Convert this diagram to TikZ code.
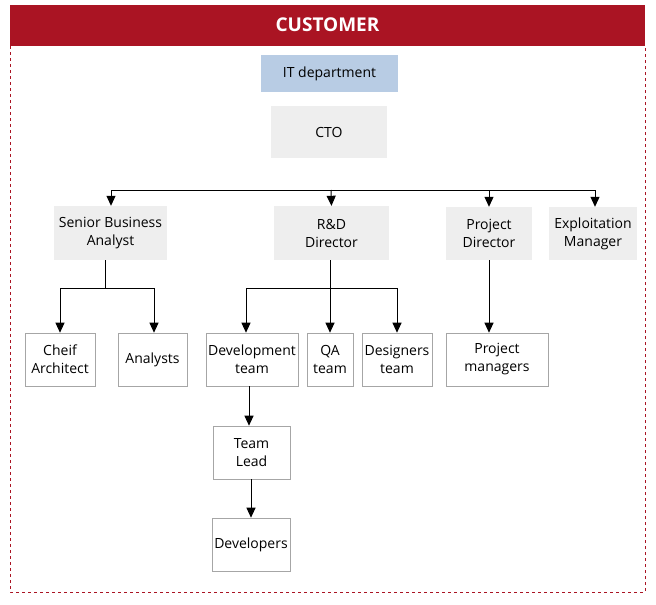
\documentclass[tikz,border=0pt]{standalone}
\usepackage{fontspec}
\setmainfont{Open Sans}
\usetikzlibrary{arrows.meta}
\begin{document}
\begin{tikzpicture}[x=1pt,y=-1pt,
 gb/.style={fill=gray!13,draw=none,align=center,font=\fontsize{14}{18}\selectfont,inner sep=0},
 wb/.style={fill=white,draw=gray!70,line width=0.6pt,align=center,font=\fontsize{14}{18}\selectfont,inner sep=0},
 ar/.style={-{Triangle[length=10pt,width=9pt]},line width=1pt},
 ln/.style={line width=1pt}]
\useasboundingbox (0,0) rectangle (656,605);
\fill[fill={rgb,255:red,170;green,20;blue,35}] (10,5) rectangle (645,46);
\node[text=white,font=\fontsize{19}{22}\selectfont\bfseries] (hdr) at (327.5,25) {CUSTOMER};
\draw[dashed,draw={rgb,255:red,170;green,20;blue,35},line width=0.7pt] (10,46) -- (10,592) -- (645,592) -- (645,46);
\node[gb,fill={rgb,255:red,184;green,204;blue,228},minimum width=137pt,minimum height=37pt] (it) at (329.5,73.5) {IT department};
\node[gb,minimum width=116pt,minimum height=52pt] (cto) at (329,132) {CTO};
\node[gb,minimum width=113pt,minimum height=54pt] (sba) at (110.5,233) {Senior Business\\Analyst};
\node[gb,minimum width=115pt,minimum height=54pt] (rd) at (331.5,233) {R\&D\\Director};
\node[gb,minimum width=86pt,minimum height=53pt] (pd) at (489,233.5) {Project\\Director};
\node[gb,minimum width=88pt,minimum height=53pt] (em) at (593,233.5) {Exploitation\\Manager};
\node[wb,minimum width=70pt,minimum height=53pt] (ca) at (60,359.5) {Cheif\\Architect};
\node[wb,minimum width=69pt,minimum height=53pt] (an) at (152.5,359.5) {Analysts};
\node[wb,minimum width=92pt,minimum height=53pt] (dt) at (252,359.5) {Development\\team};
\node[wb,minimum width=46pt,minimum height=53pt] (qa) at (330,359.5) {QA\\team};
\node[wb,minimum width=70pt,minimum height=53pt] (ds) at (397,359.5) {Designers\\team};
\node[wb,minimum width=102pt,minimum height=53pt] (pm) at (497,359.5) {Project\\managers};
\node[wb,minimum width=77pt,minimum height=53pt] (tl) at (251.5,452.5) {Team\\Lead};
\node[wb,minimum width=78pt,minimum height=53pt] (dv) at (251,544.5) {Developers};
\coordinate (h1) at (111,190);
\coordinate (h2) at (595,190);
\draw[ln] (h1) -- (h2);
\draw[ar] (h1) -- (sba.north -| h1);
\draw[ar] (331,190) -- (rd.north);
\draw[ar] (489,190) -- (pd.north);
\draw[ar] (h2) -- (em.north -| h2);
\coordinate (s1) at (105,288);
\draw[ln] (sba.south -| s1) -- (s1);
\draw[ln] (60,288) -- (154,288);
\draw[ar] (60,288) -- (ca.north);
\draw[ar] (154,288) -- (an.north -| 154,0);
\draw[ln] (246,288) -- (397,288);
\draw[ar] (330,260) -- (qa.north);
\draw[ar] (246,288) -- (dt.north -| 246,0);
\draw[ar] (397,288) -- (ds.north);
\draw[ar] (489,260) -- (pm.north -| 489,0);
\draw[ar] (249,386) -- (tl.north -| 249,0);
\draw[ar] (251,479) -- (dv.north);
\end{tikzpicture}
\end{document}
